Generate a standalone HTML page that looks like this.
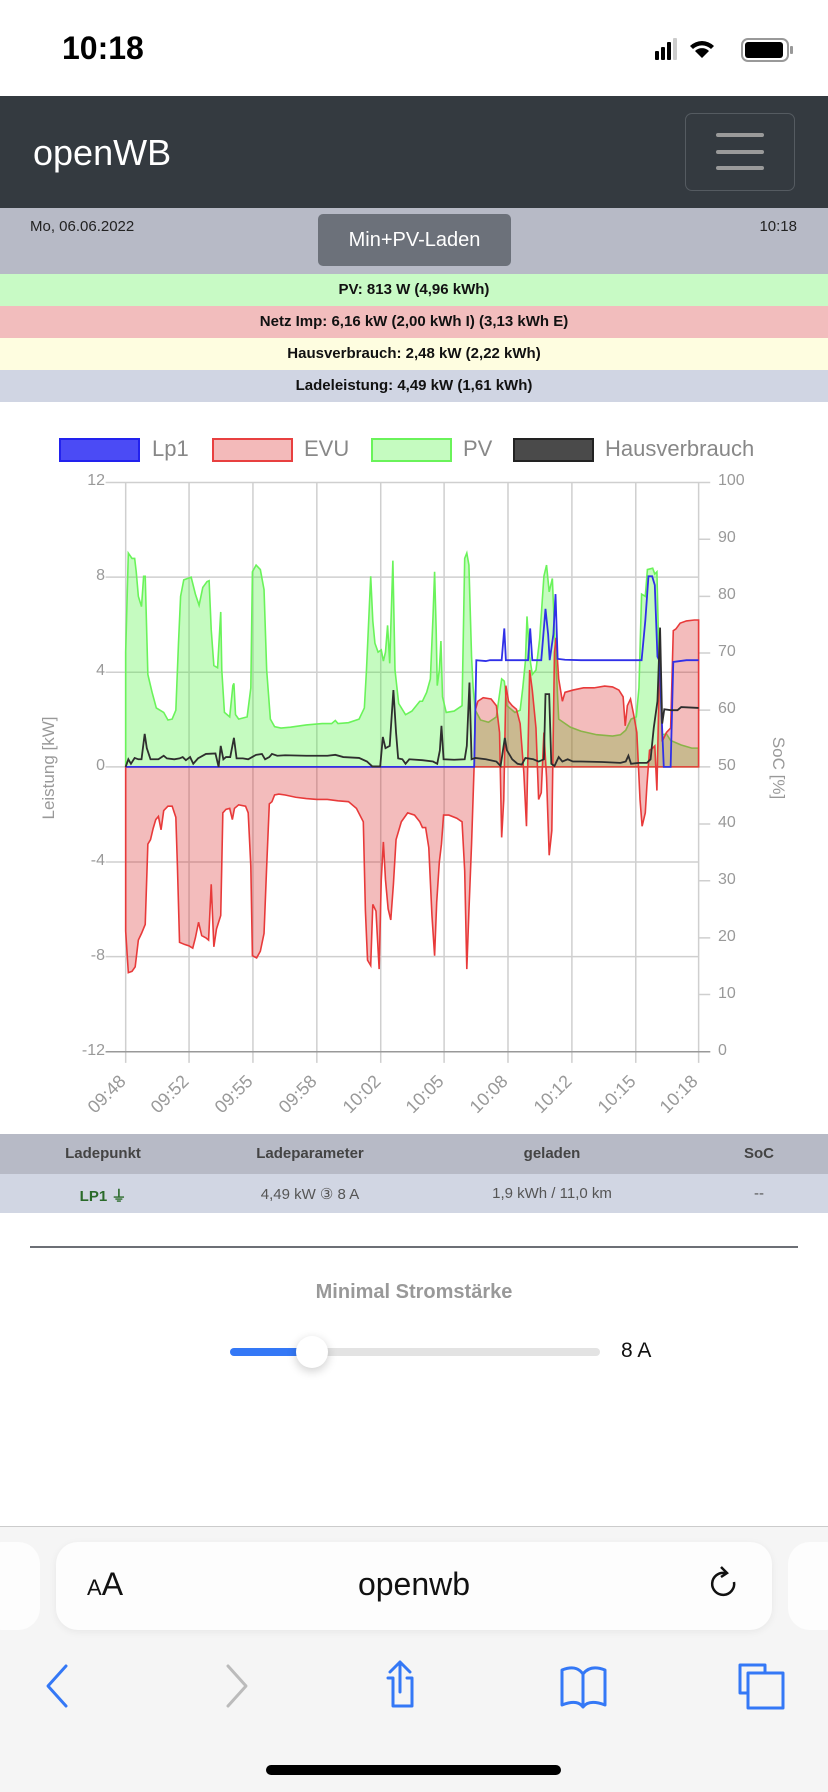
<!DOCTYPE html>
<html><head><meta charset="utf-8">
<style>
*{margin:0;padding:0;box-sizing:border-box}
body{width:828px;height:1792px;position:relative;background:#fff;font-family:"Liberation Sans",sans-serif;overflow:hidden}
.a{position:absolute}
.bar{position:absolute;left:0;width:828px;height:32px;line-height:32px;text-align:center;font-weight:bold;font-size:15px;color:#111}
.tk{position:absolute;font-size:16px;color:#999}
.xl{position:absolute;font-size:18px;color:#999;transform-origin:100% 50%;transform:rotate(-45deg);white-space:nowrap;text-align:right;width:60px}
.lg{position:absolute;top:438px;width:81px;height:24px;border:2px solid}
.lt{position:absolute;top:436px;font-size:22px;color:#888}
</style></head><body>
<!-- status bar -->
<div class="a" style="left:62px;top:30px;font-size:32px;font-weight:bold;color:#000">10:18</div>
<svg class="a" style="left:650px;top:36px" width="145" height="30">
<rect x="5" y="15" width="4" height="9" rx="1" fill="#000"/><rect x="11" y="11" width="4" height="13" rx="1" fill="#000"/><rect x="17" y="6" width="4" height="18" rx="1" fill="#000"/><rect x="23" y="2" width="4" height="22" rx="1" fill="#ccc"/>
<path d="M52 22 L45 15 A10 10 0 0 1 59 15 Z M52 22 L40 10 A17 17 0 0 1 64 10 L61 13 A13 13 0 0 0 43 13 Z" fill="#000"/>
<rect x="92" y="3" width="46" height="22" rx="6" fill="none" stroke="#999" stroke-width="2"/><rect x="95" y="6" width="38" height="16" rx="3" fill="#000"/><rect x="140" y="10" width="3" height="8" rx="1" fill="#999"/>
</svg>
<!-- navbar -->
<div class="a" style="left:0;top:96px;width:828px;height:112px;background:#343a40"></div>
<div class="a" style="left:33px;top:132px;font-size:36px;color:#fff">openWB</div>
<div class="a" style="left:685px;top:113px;width:110px;height:78px;border:1px solid #555b61;border-radius:7px"></div>
<div class="a" style="left:716px;top:133px;width:48px;height:4px;background:#9a9a9a;border-radius:2px"></div>
<div class="a" style="left:716px;top:150px;width:48px;height:4px;background:#9a9a9a;border-radius:2px"></div>
<div class="a" style="left:716px;top:166px;width:48px;height:4px;background:#9a9a9a;border-radius:2px"></div>
<!-- date bar -->
<div class="a" style="left:0;top:208px;width:828px;height:66px;background:#b7bac6"></div>
<div class="a" style="left:30px;top:218px;font-size:15px;color:#222">Mo, 06.06.2022</div>
<div class="a" style="right:31px;top:218px;font-size:15px;color:#222">10:18</div>
<div class="a" style="left:318px;top:214px;width:193px;height:52px;background:#6c717a;border-radius:5px;color:#fff;font-size:20px;text-align:center;line-height:52px">Min+PV-Laden</div>
<div class="bar" style="top:274px;background:#c8fac5">PV: 813 W (4,96 kWh)</div>
<div class="bar" style="top:306px;background:#f2bdbd">Netz Imp: 6,16 kW (2,00 kWh I) (3,13 kWh E)</div>
<div class="bar" style="top:338px;background:#fefde0">Hausverbrauch: 2,48 kW (2,22 kWh)</div>
<div class="bar" style="top:370px;background:#d0d5e3">Ladeleistung: 4,49 kW (1,61 kWh)</div>
<!-- legend -->
<div class="lg" style="left:59px;background:#4b4bf5;border-color:#2222ee"></div><div class="lt" style="left:152px">Lp1</div>
<div class="lg" style="left:212px;background:#f3baba;border-color:#e84040"></div><div class="lt" style="left:304px">EVU</div>
<div class="lg" style="left:371px;background:#c5fbc0;border-color:#6af35a"></div><div class="lt" style="left:463px">PV</div>
<div class="lg" style="left:513px;background:#4a4a4a;border-color:#222"></div><div class="lt" style="left:605px">Hausverbrauch</div>
<!-- chart -->
<svg class="a" style="left:0;top:420px" width="828" height="700" viewBox="0 0 1568 1568" preserveAspectRatio="none">
<g stroke="#cfcfcf" stroke-width="1.5" fill="none">
<path vector-effect="non-scaling-stroke" d="M238 140H1323M238 352H1323M238 565H1323M238 777H1323M238 990H1323M238 1202H1323M200 140H238M200 352H238M200 565H238M200 777H238M200 990H238M200 1202H238M200 1415H238M1323 140H1345M1323 267H1345M1323 395H1345M1323 522H1345M1323 650H1345M1323 777H1345M1323 905H1345M1323 1032H1345M1323 1160H1345M1323 1287H1345M1323 1415H1345"/>
<path vector-effect="non-scaling-stroke" d="M238 140V1440M358 140V1440M479 140V1440M600 140V1440M721 140V1440M841 140V1440M962 140V1440M1083 140V1440M1204 140V1440M1323 140V1440"/>
<path vector-effect="non-scaling-stroke" stroke="#999" d="M200 1415H1345"/>
</g>
<path fill="rgba(62,242,45,0.3)" stroke="#6af35a" stroke-width="1.6" vector-effect="non-scaling-stroke" d="M238 777L238 520L243 298L250 310L255 310L258 340L262 395L268 418L272 350L275 350L280 570L288 610L296 645L310 655L318 672L326 670L333 650L338 500L342 395L348 358L355 355L362 352L370 390L377 415L384 375L392 362L396 360L400 470L405 550L412 555L418 430L420 560L425 655L435 665L441 595L443 590L446 660L452 670L468 665L475 600L478 340L485 325L493 335L500 380L505 560L512 670L520 687L532 690L550 688L580 683L610 680L628 680L635 673L640 680L660 678L680 670L690 645L694 560L702 350L706 450L710 500L716 520L722 515L726 540L730 520L734 460L738 545L744 315L748 560L755 635L768 660L780 652L795 630L800 630L808 610L815 580L820 440L823 340L826 470L828 595L832 560L835 495L838 620L845 655L860 652L875 640L880 310L884 298L888 325L893 530L896 600L900 650L910 672L925 677L940 665L950 580L955 585L960 640L975 655L985 650L990 600L995 540L998 440L1003 530L1008 570L1015 560L1022 490L1030 350L1035 325L1040 385L1046 355L1050 470L1058 670L1080 688L1100 697L1130 705L1160 708L1175 705L1185 695L1195 670L1205 665L1210 600L1215 390L1222 395L1226 335L1236 332L1240 345L1244 340L1248 540L1254 705L1262 703L1270 718L1290 728L1310 735L1323 735L1323 777Z"/>
<path fill="rgba(215,32,32,0.3)" stroke="#e83a3a" stroke-width="1.6" vector-effect="non-scaling-stroke" d="M238 777L238 1145L243 1238L250 1235L256 1225L262 1165L268 1150L275 1130L280 950L285 940L290 915L295 895L300 888L305 918L310 875L318 865L326 865L333 890L336 1000L340 1170L350 1175L358 1178L365 1183L370 1160L376 1125L382 1155L390 1160L395 1165L400 1040L405 1180L410 1140L418 1110L422 880L428 872L435 870L440 895L444 870L452 862L465 865L470 880L475 1000L478 1200L486 1205L493 1190L500 1150L505 1000L510 860L515 855L520 840L528 838L540 840L560 845L580 848L600 850L620 850L640 853L660 855L675 870L688 900L692 1100L696 1210L702 1222L706 1085L712 1100L718 1230L722 1030L726 945L730 1030L735 1095L740 1120L745 1040L750 940L760 900L772 880L785 885L795 900L800 913L806 913L812 958L818 1110L823 1200L827 1080L832 990L836 950L840 885L850 885L865 892L875 900L880 1010L884 1230L888 1100L893 950L898 770L900 650L905 630L915 622L930 625L940 640L946 700L950 935L954 850L958 595L963 630L970 640L978 648L985 680L992 790L997 910L1003 560L1008 605L1015 690L1020 850L1025 835L1030 700L1035 800L1040 975L1045 920L1050 520L1053 488L1058 580L1065 630L1070 610L1085 605L1105 600L1125 600L1145 596L1160 598L1172 605L1180 620L1184 685L1188 640L1194 625L1200 660L1206 700L1212 850L1216 910L1222 880L1225 820L1230 740L1236 735L1240 730L1244 830L1247 660L1250 495L1254 720L1262 700L1270 690L1275 472L1280 468L1288 455L1300 450L1315 448L1323 448L1323 777Z"/>
<path fill="none" stroke="#3030e8" stroke-width="1.8" vector-effect="non-scaling-stroke" d="M238 777L898 777L902 538L920 540L928 538L950 538L955 467L958 538L1000 538L1004 467L1008 538L1025 538L1033 423L1038 480L1041 538L1048 480L1052 390L1056 535L1070 537L1100 538L1150 538L1215 538L1222 450L1228 350L1235 350L1240 370L1245 530L1249 540L1253 665L1257 777L1270 777L1275 542L1300 538L1323 538"/>
<path fill="none" stroke="#2e2e2e" stroke-width="1.8" vector-effect="non-scaling-stroke" d="M238 777L243 760L248 770L255 757L262 760L268 760L274 703L278 735L285 760L300 760L310 752L316 758L330 760L340 758L346 755L352 762L360 755L366 770L375 758L390 748L408 747L414 777L418 730L423 760L428 755L436 755L443 712L448 758L460 758L470 760L485 750L496 748L502 760L510 755L515 748L525 752L540 751L580 752L620 752L635 750L650 755L680 757L695 765L705 776L720 776L725 710L730 735L738 730L745 605L750 700L754 758L762 760L768 770L775 760L800 762L820 765L828 770L833 740L836 685L840 760L860 761L880 760L884 730L889 588L893 760L900 757L920 760L940 765L948 775L956 712L960 740L970 760L980 770L988 772L995 757L1010 760L1020 765L1030 760L1033 614L1040 614L1044 770L1050 775L1058 755L1065 765L1075 760L1085 765L1100 765L1140 766L1175 768L1185 765L1190 752L1195 770L1210 768L1225 768L1232 760L1238 690L1245 630L1250 465L1254 680L1258 648L1270 650L1283 650L1290 643L1323 645"/>
</svg>
<!-- y ticks left -->
<div class="tk" style="right:723px;top:472px">12</div>
<div class="tk" style="right:723px;top:567px">8</div>
<div class="tk" style="right:723px;top:662px">4</div>
<div class="tk" style="right:723px;top:757px">0</div>
<div class="tk" style="right:723px;top:852px">-4</div>
<div class="tk" style="right:723px;top:947px">-8</div>
<div class="tk" style="right:723px;top:1042px">-12</div>
<!-- right ticks -->
<div class="tk" style="left:718px;top:472px">100</div>
<div class="tk" style="left:718px;top:529px">90</div>
<div class="tk" style="left:718px;top:586px">80</div>
<div class="tk" style="left:718px;top:643px">70</div>
<div class="tk" style="left:718px;top:700px">60</div>
<div class="tk" style="left:718px;top:757px">50</div>
<div class="tk" style="left:718px;top:814px">40</div>
<div class="tk" style="left:718px;top:871px">30</div>
<div class="tk" style="left:718px;top:928px">20</div>
<div class="tk" style="left:718px;top:985px">10</div>
<div class="tk" style="left:718px;top:1042px">0</div>
<div class="a" style="left:49px;top:768px;font-size:17px;color:#999;transform:translate(-50%,-50%) rotate(-90deg);white-space:nowrap">Leistung [kW]</div>
<div class="a" style="left:778px;top:768px;font-size:17px;color:#999;transform:translate(-50%,-50%) rotate(90deg);white-space:nowrap">SoC [%]</div>
<!-- x labels -->
<div class="xl" style="left:63px;top:1068px">09:48</div>
<div class="xl" style="left:126px;top:1068px">09:52</div>
<div class="xl" style="left:190px;top:1068px">09:55</div>
<div class="xl" style="left:254px;top:1068px">09:58</div>
<div class="xl" style="left:318px;top:1068px">10:02</div>
<div class="xl" style="left:381px;top:1068px">10:05</div>
<div class="xl" style="left:445px;top:1068px">10:08</div>
<div class="xl" style="left:509px;top:1068px">10:12</div>
<div class="xl" style="left:573px;top:1068px">10:15</div>
<div class="xl" style="left:635px;top:1068px">10:18</div>
<!-- table -->
<div class="a" style="left:0;top:1134px;width:828px;height:40px;background:#b7bac6"></div>
<div class="a" style="left:0;top:1174px;width:828px;height:39px;background:#d1d6e3"></div>
<div class="a" style="left:103px;top:1145px;transform:translateX(-50%);font-size:15px;font-weight:bold;color:#444">Ladepunkt</div>
<div class="a" style="left:310px;top:1145px;transform:translateX(-50%);font-size:15px;font-weight:bold;color:#444">Ladeparameter</div>
<div class="a" style="left:552px;top:1145px;transform:translateX(-50%);font-size:15px;font-weight:bold;color:#444">geladen</div>
<div class="a" style="left:759px;top:1145px;transform:translateX(-50%);font-size:15px;font-weight:bold;color:#444">SoC</div>
<div class="a" style="left:103px;top:1185px;transform:translateX(-50%);font-size:15px;font-weight:bold;color:#2a6a2a;white-space:nowrap">LP1 ⏚</div>
<div class="a" style="left:310px;top:1185px;transform:translateX(-50%);font-size:15px;color:#555;white-space:nowrap">4,49 kW ③ 8 A</div>
<div class="a" style="left:552px;top:1185px;transform:translateX(-50%);font-size:15px;color:#555;white-space:nowrap">1,9 kWh / 11,0 km</div>
<div class="a" style="left:759px;top:1185px;transform:translateX(-50%);font-size:15px;color:#555">--</div>
<div class="a" style="left:30px;top:1246px;width:768px;height:2px;background:#6c6f75"></div>
<div class="a" style="left:414px;top:1281px;transform:translateX(-50%);font-size:20px;font-weight:bold;color:#999;white-space:nowrap">Minimal Stromstärke</div>
<div class="a" style="left:230px;top:1348px;width:370px;height:8px;border-radius:4px;background:#e3e3e3"></div>
<div class="a" style="left:230px;top:1348px;width:85px;height:8px;border-radius:4px;background:#3478f6"></div>
<div class="a" style="left:296px;top:1336px;width:32px;height:32px;border-radius:50%;background:#fff;box-shadow:0 3px 10px rgba(0,0,0,0.2)"></div>
<div class="a" style="left:621px;top:1339px;font-size:21px;color:#111">8 A</div>
<!-- safari bar -->
<div class="a" style="left:0;top:1526px;width:828px;height:266px;background:#f5f5f5;border-top:1px solid #ccc"></div>
<div class="a" style="left:-20px;top:1542px;width:60px;height:88px;border-radius:22px;background:#fdfdfd"></div>
<div class="a" style="left:56px;top:1542px;width:716px;height:88px;border-radius:22px;background:#fdfdfd;box-shadow:0 2px 8px rgba(0,0,0,0.06)"></div>
<div class="a" style="left:788px;top:1542px;width:60px;height:88px;border-radius:22px;background:#fdfdfd"></div>
<div class="a" style="left:87px;top:1566px;color:#111"><span style="font-size:22px">A</span><span style="font-size:32px">A</span></div>
<div class="a" style="left:414px;top:1566px;transform:translateX(-50%);font-size:32px;color:#111">openwb</div>
<svg class="a" style="left:708px;top:1564px" width="34" height="40"><path d="M26 18 A11 11 0 1 1 17 9" fill="none" stroke="#111" stroke-width="2.5"/><path d="M13 3 L19 9 L13 13" fill="none" stroke="#111" stroke-width="2.5"/></svg>
<svg class="a" style="left:0;top:1650px" width="828" height="60" fill="none" stroke-width="3" stroke-linecap="round" stroke-linejoin="round">
<path d="M66 16 L48 36 L66 56" stroke="#3478f6"/>
<path d="M228 16 L246 36 L228 56" stroke="#bbb"/>
<path d="M400 12 V42 M390 22 L400 12 L410 22 M388 28 H393 V56 H408 M407 28 H412 V56 H393" stroke="#3478f6"/>
<path d="M562 20 C575 15 580 20 583 24 C586 20 592 15 605 20 V55 C592 50 586 53 583 57 C580 53 575 50 562 55 Z M583 24 V57" stroke="#3478f6"/>
<path d="M740 15 H765 V23 M740 15 V43 H748 M748 23 H783 V58 H748 Z" stroke="#3478f6"/>
</svg>
<div class="a" style="left:266px;top:1765px;width:295px;height:10px;border-radius:5px;background:#000"></div>
</body></html>
